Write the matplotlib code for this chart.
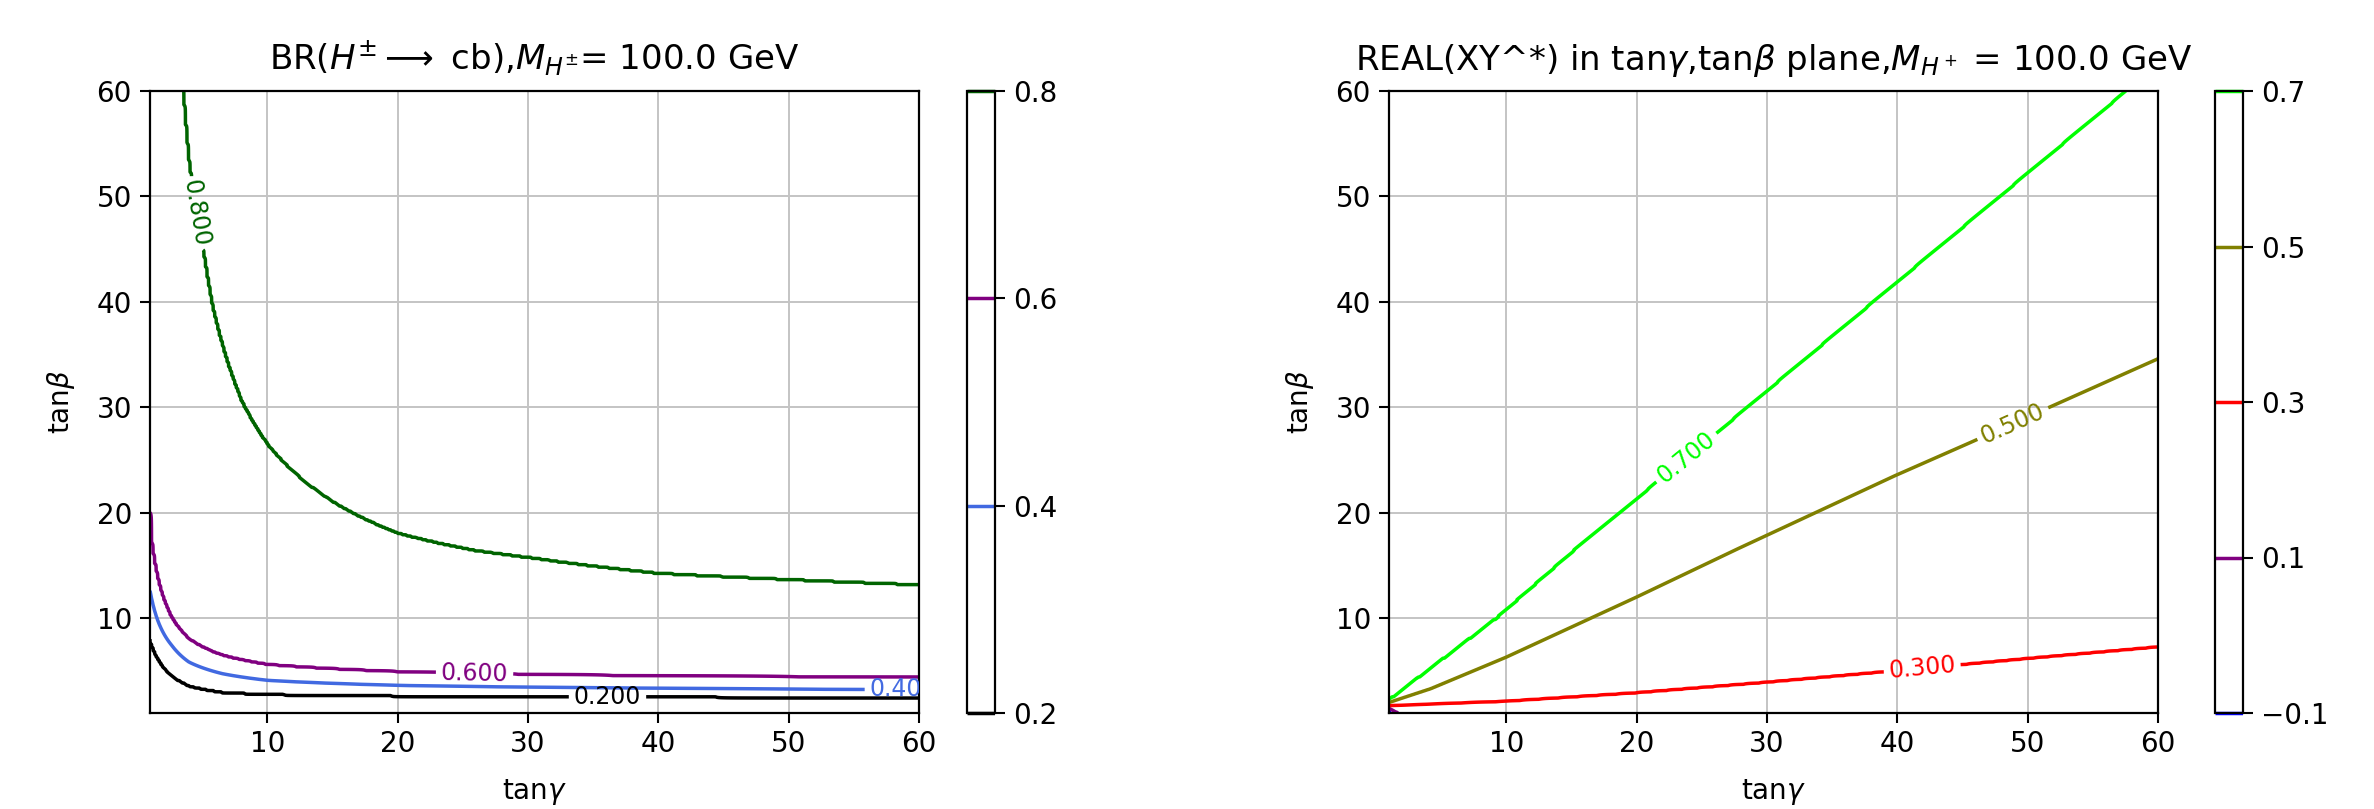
import numpy as np
import matplotlib
matplotlib.use('Agg')
import matplotlib.pyplot as plt

# ---- left panel: BR(H+ -> cb) contours (tan gamma, tan beta)
br_levels = [0.2, 0.4, 0.6, 0.8]
br_colors = ['black', 'royalblue', 'purple', 'darkgreen']

br02_x = [1.0, 1.08, 1.65, 2.68, 3.98, 6.56, 10, 20, 30, 40, 60]
br02_y = [8.0, 7.73, 6.15, 4.57, 3.62, 3.0, 2.8, 2.65, 2.58, 2.55, 2.5]
br04_x = [1.0, 1.08, 1.65, 2.68, 3.98, 6.56, 10, 20, 30, 40, 60]
br04_y = [12.6, 12.1, 9.6, 7.4, 5.84, 4.73, 4.1, 3.62, 3.45, 3.35, 3.2]
br06_x = [1.0, 1.08, 1.65, 2.68, 3.98, 6.56, 10, 20, 30, 40, 60]
br06_y = [20.0, 17.5, 13.4, 10.0, 8.04, 6.46, 5.58, 4.9, 4.65, 4.5, 4.38]
# first three points lie above the top edge (tan beta > 60)
br08_x = [1.0, 2.0, 3.0, 3.52, 3.96, 5.17, 5.76, 8.0, 10.1, 13.1, 15.7, 20.05, 26.0, 30.3, 40, 50, 60]
br08_y = [200, 100, 68, 60.0, 53.35, 44.0, 39.6, 30.6, 26.3, 22.7, 20.5, 18.0, 16.35, 15.66, 14.2, 13.6, 13.1]

# ---- right panel: REAL(XY^*) contours
xy_levels = [-0.1, 0.1, 0.3, 0.5, 0.7]
xy_colors = ['blue', 'purple', 'red', 'olive', 'lime']

xym01_x = [1.0, 1.2, 2.0, 60]
xym01_y = [1.15, 0.95, 0.6, 0.3]
xy01_x = [1.0, 1.5, 2.0, 60]
xy01_y = [1.45, 1.1, 0.8, 0.5]
xy03_x = [1, 10, 20, 30, 40, 50, 60]
xy03_y = [1.7, 2.1, 2.9, 3.9, 5.0, 6.15, 7.25]
xy05_x = [1, 4.2, 10, 20, 27.8, 39.8, 45.5, 60]
xy05_y = [2.0, 3.3, 6.3, 12.0, 16.6, 23.5, 26.6, 34.6]
xy07_x = [1, 9.3, 15.4, 20.8, 26.9, 38.4, 57.6, 60]
xy07_y = [2.2, 10.0, 16.6, 22.1, 28.3, 40.2, 60.0, 62.5]

tang = np.linspace(1, 60, 500)
tanb = np.linspace(1, 60, 500)


def campo(curvas, niveles, z_abajo, z_arriba, loglog=False):
    # table of values on the grid so that contour() redraws the read curves
    Z = np.empty((len(tanb), len(tang)))
    for j, t in enumerate(tang):
        ys = [-100.0]
        for xs, yc in curvas:
            if loglog:
                ys.append(np.exp(np.interp(np.log(t), np.log(xs), np.log(yc))))
            else:
                ys.append(np.interp(t, xs, yc))
        ys.append(1000.0)
        Z[:, j] = np.interp(tanb, ys, [z_abajo] + list(niveles) + [z_arriba])
    return Z


Z1 = campo([(br02_x, br02_y), (br04_x, br04_y), (br06_x, br06_y), (br08_x, br08_y)],
           br_levels, 0.1, 0.9, loglog=True)
Z2 = campo([(xym01_x, xym01_y), (xy01_x, xy01_y), (xy03_x, xy03_y), (xy05_x, xy05_y), (xy07_x, xy07_y)],
           xy_levels, -0.3, 0.9)
X, Y = np.meshgrid(tang, tanb)

plt.rcParams['font.size'] = 20
plt.rcParams['axes.linewidth'] = 1.6
plt.rcParams['xtick.major.size'] = 7
plt.rcParams['ytick.major.size'] = 7
plt.rcParams['xtick.major.width'] = 1.5
plt.rcParams['ytick.major.width'] = 1.5
plt.rcParams['xtick.major.pad'] = 5
plt.rcParams['ytick.major.pad'] = 6

W, H = 2374, 809
fig = plt.figure(figsize=(W / 100, H / 100), dpi=100)
ax1 = fig.add_axes([150 / W, 96 / H, 769 / W, 622 / H])
cax1 = fig.add_axes([967 / W, 96 / H, 28 / W, 622 / H])
ax2 = fig.add_axes([1389 / W, 96 / H, 769 / W, 622 / H])
cax2 = fig.add_axes([2215 / W, 96 / H, 28 / W, 622 / H])

# left
cs1 = ax1.contour(X, Y, Z1, levels=br_levels, colors=br_colors, linewidths=2.5)
ax1.clabel(cs1, fmt='%1.3f', fontsize=17,
           manual=[(4.6, 48.4), (25.9, 4.6), (58.8, 3.2), (36.1, 2.6)])
ax1.set_title(r'BR($H^{\pm}\longrightarrow$ cb),$M_{H^{\pm}}$= 100.0 GeV', fontsize=24.5, pad=15)
ax1.set_xlabel(r'tan$\gamma$', labelpad=14)
ax1.set_ylabel(r'tan$\beta$', labelpad=14)
ax1.grid(True, color='#c4c4c4', linewidth=1.4)
fig.colorbar(cs1, cax=cax1)

# right
cs2 = ax2.contour(X, Y, Z2, levels=xy_levels, colors=xy_colors, linewidths=2.5)
ax2.clabel(cs2, fmt='%1.3f', fontsize=17,
           manual=[(23.7, 25.4), (48.7, 28.9), (41.9, 5.5)])
ax2.set_title(r'REAL(XY^*) in tan$\gamma$,tan$\beta$ plane,$M_{H^+}$ = 100.0 GeV', fontsize=24.5, pad=15)
ax2.set_xlabel(r'tan$\gamma$', labelpad=14)
ax2.set_ylabel(r'tan$\beta$', labelpad=14)
ax2.grid(True, color='#c4c4c4', linewidth=1.4)
fig.colorbar(cs2, cax=cax2)

for ax in (ax1, ax2):
    ax.set_xlim(1, 60)
    ax.set_ylim(1, 60)

fig.savefig('out.png', dpi=100)
